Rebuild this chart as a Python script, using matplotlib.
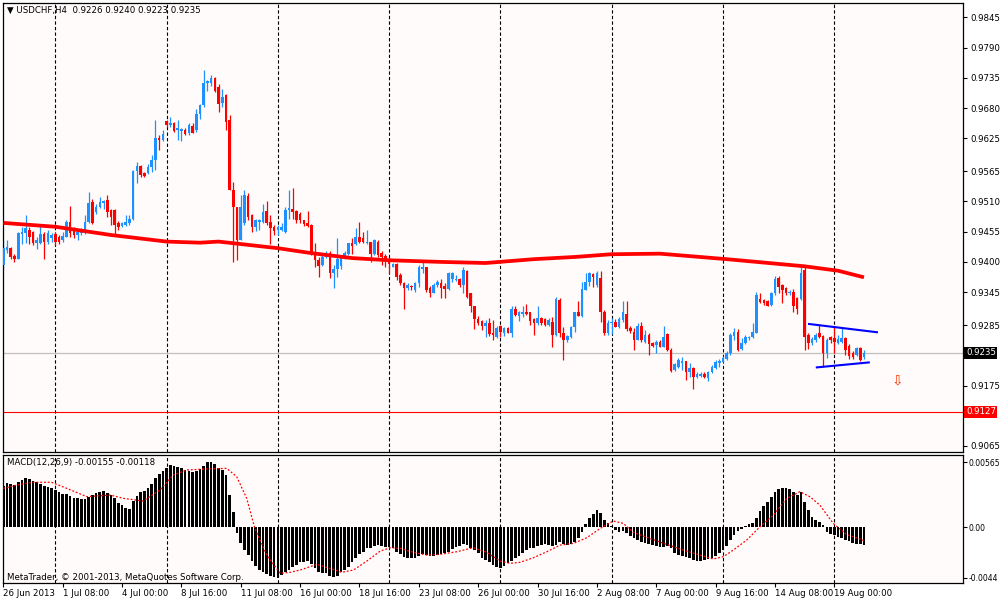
import numpy as np
import matplotlib.pyplot as plt

# USDCHF H4 bars
opens = [
    0.9394, 0.9422, 0.9425, 0.9411, 0.9406, 0.9451, 0.9452, 0.9459, 0.9455, 0.9434,
    0.9434, 0.9451, 0.9437, 0.9443, 0.9451, 0.9446, 0.9440, 0.9446, 0.9473, 0.9461,
    0.9449, 0.9452, 0.9452, 0.9473, 0.9509, 0.9491, 0.9500, 0.9508, 0.9512, 0.9495,
    0.9495, 0.9470, 0.9465, 0.9467, 0.9471, 0.9479, 0.9565, 0.9574, 0.9561, 0.9561,
    0.9573, 0.9586, 0.9626, 0.9622, 0.9656, 0.9649, 0.9653, 0.9640, 0.9638, 0.9640,
    0.9634, 0.9647, 0.9640, 0.9670, 0.9685, 0.9726, 0.9726, 0.9734, 0.9718, 0.9689,
    0.9703, 0.9658, 0.9531, 0.9500, 0.9440, 0.9470, 0.9520, 0.9485, 0.9463, 0.9473,
    0.9473, 0.9493, 0.9473, 0.9463, 0.9458, 0.9459, 0.9455, 0.9495, 0.9497, 0.9493,
    0.9488, 0.9476, 0.9471, 0.9467, 0.9418, 0.9403, 0.9394, 0.9409, 0.9417, 0.9379,
    0.9388, 0.9392, 0.9406, 0.9415, 0.9435, 0.9432, 0.9446, 0.9443, 0.9434, 0.9437,
    0.9415, 0.9437, 0.9417, 0.9411, 0.9406, 0.9391, 0.9396, 0.9376, 0.9361, 0.9352,
    0.9356, 0.9349, 0.9361, 0.9388, 0.9390, 0.9352, 0.9344, 0.9358, 0.9361, 0.9356,
    0.9350, 0.9368, 0.9367, 0.9368, 0.9358, 0.9384, 0.9343, 0.9319, 0.9296, 0.9293,
    0.9283, 0.9289, 0.9271, 0.9264, 0.9283, 0.9271, 0.9279, 0.9271, 0.9315, 0.9302,
    0.9306, 0.9309, 0.9308, 0.9296, 0.9288, 0.9298, 0.9296, 0.9285, 0.9291, 0.9267,
    0.9331, 0.9270, 0.9258, 0.9264, 0.9281, 0.9308, 0.9302, 0.9349, 0.9364, 0.9378,
    0.9358, 0.9370, 0.9309, 0.9270, 0.9288, 0.9291, 0.9281, 0.9294, 0.9305, 0.9279,
    0.9273, 0.9258, 0.9283, 0.9255, 0.9267, 0.9253, 0.9249, 0.9255, 0.9246, 0.9269,
    0.9240, 0.9203, 0.9208, 0.9216, 0.9219, 0.9200, 0.9206, 0.9191, 0.9192, 0.9196,
    0.9188, 0.9199, 0.9206, 0.9216, 0.9218, 0.9223, 0.9234, 0.9265, 0.9273, 0.9241,
    0.9253, 0.9261, 0.9263, 0.9271, 0.9332, 0.9331, 0.9328, 0.9322, 0.9343, 0.9370,
    0.9358, 0.9352, 0.9343, 0.9346, 0.9334, 0.9332, 0.9385, 0.9267, 0.9252, 0.9258,
    0.9271, 0.9265, 0.9234, 0.9264, 0.9261, 0.9253, 0.9255, 0.9261, 0.9247, 0.9234,
    0.9231, 0.9243, 0.9226,
]
highs = [
    0.9440, 0.9440, 0.9428, 0.9415, 0.9455, 0.9464, 0.9485, 0.9464, 0.9457, 0.9446,
    0.9467, 0.9455, 0.9458, 0.9452, 0.9455, 0.9449, 0.9455, 0.9477, 0.9502, 0.9464,
    0.9458, 0.9461, 0.9485, 0.9528, 0.9514, 0.9505, 0.9518, 0.9512, 0.9522, 0.9497,
    0.9497, 0.9475, 0.9473, 0.9485, 0.9485, 0.9567, 0.9582, 0.9576, 0.9564, 0.9579,
    0.9594, 0.9659, 0.9631, 0.9640, 0.9659, 0.9664, 0.9655, 0.9659, 0.9643, 0.9643,
    0.9653, 0.9652, 0.9679, 0.9688, 0.9750, 0.9731, 0.9741, 0.9737, 0.9724, 0.9714,
    0.9706, 0.9667, 0.9546, 0.9500, 0.9522, 0.9531, 0.9526, 0.9488, 0.9479, 0.9479,
    0.9506, 0.9511, 0.9485, 0.9467, 0.9467, 0.9470, 0.9500, 0.9531, 0.9534, 0.9494,
    0.9491, 0.9477, 0.9493, 0.9469, 0.9435, 0.9409, 0.9415, 0.9419, 0.9420, 0.9394,
    0.9443, 0.9411, 0.9419, 0.9435, 0.9443, 0.9461, 0.9473, 0.9455, 0.9458, 0.9437,
    0.9441, 0.9440, 0.9419, 0.9415, 0.9409, 0.9398, 0.9398, 0.9379, 0.9364, 0.9361,
    0.9358, 0.9364, 0.9394, 0.9403, 0.9391, 0.9356, 0.9361, 0.9367, 0.9368, 0.9361,
    0.9382, 0.9382, 0.9376, 0.9370, 0.9391, 0.9385, 0.9344, 0.9320, 0.9302, 0.9294,
    0.9294, 0.9297, 0.9294, 0.9283, 0.9285, 0.9281, 0.9281, 0.9320, 0.9319, 0.9311,
    0.9320, 0.9323, 0.9309, 0.9297, 0.9320, 0.9300, 0.9297, 0.9297, 0.9299, 0.9336,
    0.9334, 0.9281, 0.9267, 0.9283, 0.9309, 0.9328, 0.9364, 0.9379, 0.9382, 0.9380,
    0.9384, 0.9384, 0.9312, 0.9294, 0.9297, 0.9296, 0.9299, 0.9328, 0.9328, 0.9283,
    0.9279, 0.9288, 0.9291, 0.9276, 0.9270, 0.9255, 0.9258, 0.9258, 0.9283, 0.9270,
    0.9243, 0.9216, 0.9225, 0.9226, 0.9220, 0.9216, 0.9208, 0.9199, 0.9199, 0.9199,
    0.9202, 0.9212, 0.9222, 0.9223, 0.9228, 0.9237, 0.9270, 0.9279, 0.9277, 0.9261,
    0.9267, 0.9265, 0.9288, 0.9346, 0.9343, 0.9332, 0.9331, 0.9346, 0.9374, 0.9374,
    0.9360, 0.9355, 0.9349, 0.9350, 0.9337, 0.9390, 0.9391, 0.9270, 0.9264, 0.9271,
    0.9285, 0.9267, 0.9261, 0.9265, 0.9281, 0.9267, 0.9281, 0.9263, 0.9251, 0.9237,
    0.9245, 0.9245, 0.9240,
]
lows = [
    0.9388, 0.9416, 0.9405, 0.9400, 0.9405, 0.9432, 0.9434, 0.9432, 0.9431, 0.9423,
    0.9432, 0.9406, 0.9432, 0.9437, 0.9431, 0.9432, 0.9437, 0.9446, 0.9446, 0.9443,
    0.9440, 0.9449, 0.9451, 0.9470, 0.9469, 0.9488, 0.9499, 0.9497, 0.9482, 0.9467,
    0.9449, 0.9458, 0.9464, 0.9465, 0.9467, 0.9476, 0.9543, 0.9555, 0.9554, 0.9560,
    0.9564, 0.9567, 0.9603, 0.9620, 0.9646, 0.9646, 0.9637, 0.9622, 0.9621, 0.9631,
    0.9631, 0.9634, 0.9637, 0.9661, 0.9682, 0.9712, 0.9721, 0.9709, 0.9673, 0.9682,
    0.9640, 0.9531, 0.9400, 0.9403, 0.9440, 0.9467, 0.9476, 0.9455, 0.9457, 0.9458,
    0.9471, 0.9467, 0.9432, 0.9449, 0.9449, 0.9457, 0.9453, 0.9479, 0.9479, 0.9470,
    0.9471, 0.9465, 0.9464, 0.9412, 0.9390, 0.9373, 0.9392, 0.9408, 0.9370, 0.9352,
    0.9373, 0.9388, 0.9405, 0.9412, 0.9415, 0.9431, 0.9435, 0.9434, 0.9432, 0.9400,
    0.9412, 0.9409, 0.9394, 0.9391, 0.9379, 0.9390, 0.9367, 0.9358, 0.9315, 0.9349,
    0.9349, 0.9346, 0.9355, 0.9379, 0.9346, 0.9337, 0.9343, 0.9355, 0.9335, 0.9335,
    0.9349, 0.9364, 0.9366, 0.9355, 0.9344, 0.9334, 0.9309, 0.9277, 0.9285, 0.9276,
    0.9264, 0.9265, 0.9257, 0.9261, 0.9264, 0.9265, 0.9270, 0.9264, 0.9302, 0.9293,
    0.9299, 0.9303, 0.9285, 0.9267, 0.9285, 0.9285, 0.9283, 0.9283, 0.9246, 0.9265,
    0.9264, 0.9222, 0.9255, 0.9261, 0.9273, 0.9302, 0.9300, 0.9348, 0.9356, 0.9355,
    0.9355, 0.9291, 0.9267, 0.9267, 0.9269, 0.9281, 0.9279, 0.9291, 0.9275, 0.9271,
    0.9240, 0.9257, 0.9255, 0.9252, 0.9231, 0.9246, 0.9235, 0.9245, 0.9245, 0.9237,
    0.9200, 0.9202, 0.9206, 0.9203, 0.9185, 0.9191, 0.9168, 0.9188, 0.9190, 0.9188,
    0.9184, 0.9197, 0.9205, 0.9209, 0.9217, 0.9222, 0.9231, 0.9258, 0.9237, 0.9239,
    0.9251, 0.9258, 0.9261, 0.9270, 0.9325, 0.9322, 0.9319, 0.9320, 0.9340, 0.9343,
    0.9326, 0.9340, 0.9340, 0.9309, 0.9306, 0.9331, 0.9240, 0.9241, 0.9249, 0.9255,
    0.9261, 0.9209, 0.9225, 0.9252, 0.9234, 0.9251, 0.9252, 0.9231, 0.9223, 0.9223,
    0.9229, 0.9220, 0.9223,
]
closes = [
    0.9425, 0.9428, 0.9409, 0.9406, 0.9452, 0.9455, 0.9461, 0.9446, 0.9434, 0.9440,
    0.9451, 0.9437, 0.9452, 0.9449, 0.9437, 0.9437, 0.9447, 0.9473, 0.9452, 0.9449,
    0.9455, 0.9458, 0.9473, 0.9508, 0.9470, 0.9500, 0.9509, 0.9511, 0.9491, 0.9482,
    0.9467, 0.9464, 0.9471, 0.9473, 0.9479, 0.9565, 0.9574, 0.9558, 0.9556, 0.9573,
    0.9586, 0.9626, 0.9622, 0.9632, 0.9649, 0.9652, 0.9638, 0.9643, 0.9642, 0.9632,
    0.9649, 0.9635, 0.9670, 0.9685, 0.9726, 0.9729, 0.9734, 0.9712, 0.9688, 0.9701,
    0.9655, 0.9531, 0.9500, 0.9440, 0.9500, 0.9522, 0.9482, 0.9463, 0.9477, 0.9477,
    0.9491, 0.9470, 0.9461, 0.9457, 0.9464, 0.9464, 0.9495, 0.9499, 0.9491, 0.9477,
    0.9477, 0.9469, 0.9465, 0.9415, 0.9403, 0.9392, 0.9409, 0.9417, 0.9379, 0.9388,
    0.9406, 0.9409, 0.9417, 0.9434, 0.9429, 0.9445, 0.9437, 0.9437, 0.9437, 0.9415,
    0.9440, 0.9412, 0.9409, 0.9406, 0.9396, 0.9397, 0.9373, 0.9361, 0.9352, 0.9358,
    0.9354, 0.9361, 0.9390, 0.9391, 0.9349, 0.9343, 0.9358, 0.9364, 0.9352, 0.9350,
    0.9379, 0.9380, 0.9368, 0.9358, 0.9385, 0.9336, 0.9319, 0.9296, 0.9288, 0.9283,
    0.9288, 0.9269, 0.9267, 0.9279, 0.9273, 0.9279, 0.9271, 0.9314, 0.9303, 0.9309,
    0.9309, 0.9306, 0.9293, 0.9288, 0.9297, 0.9288, 0.9285, 0.9294, 0.9267, 0.9332,
    0.9270, 0.9258, 0.9265, 0.9281, 0.9308, 0.9302, 0.9350, 0.9364, 0.9380, 0.9372,
    0.9379, 0.9308, 0.9270, 0.9289, 0.9291, 0.9282, 0.9296, 0.9309, 0.9277, 0.9275,
    0.9258, 0.9283, 0.9257, 0.9267, 0.9251, 0.9247, 0.9255, 0.9246, 0.9264, 0.9240,
    0.9202, 0.9214, 0.9222, 0.9219, 0.9200, 0.9206, 0.9191, 0.9196, 0.9196, 0.9191,
    0.9200, 0.9209, 0.9217, 0.9220, 0.9225, 0.9234, 0.9267, 0.9273, 0.9240, 0.9253,
    0.9264, 0.9264, 0.9273, 0.9340, 0.9327, 0.9325, 0.9320, 0.9343, 0.9368, 0.9355,
    0.9349, 0.9344, 0.9346, 0.9319, 0.9315, 0.9379, 0.9264, 0.9252, 0.9259, 0.9267,
    0.9264, 0.9234, 0.9258, 0.9257, 0.9255, 0.9259, 0.9261, 0.9240, 0.9228, 0.9226,
    0.9243, 0.9222, 0.9235,
]

# moving average (thick red line), read at a few bars
ma_x = [0, 14, 29, 44, 53, 58, 74, 83, 94, 104, 118, 130, 143, 154, 164, 177, 195, 216, 225, 232]
ma_y = [0.9471, 0.9464, 0.9449, 0.9437, 0.9435, 0.9437, 0.9425, 0.9416, 0.9407, 0.9403,
        0.9400, 0.9398, 0.9405, 0.9409, 0.9414, 0.9415, 0.9405, 0.9392, 0.9384, 0.9372]

# MACD(12,26,9) main line as histogram
macd_main = [
    0.00360, 0.00380, 0.00371, 0.00365, 0.00389, 0.00409, 0.00423, 0.00418, 0.00400, 0.00389,
    0.00371, 0.00360, 0.00351, 0.00336, 0.00322, 0.00302, 0.00284, 0.00284, 0.00273, 0.00255,
    0.00249, 0.00241, 0.00244, 0.00264, 0.00278, 0.00293, 0.00307, 0.00313, 0.00293, 0.00278,
    0.00249, 0.00206, 0.00191, 0.00168, 0.00157, 0.00226, 0.00273, 0.00302, 0.00313, 0.00342,
    0.00371, 0.00429, 0.00458, 0.00487, 0.00516, 0.00539, 0.00534, 0.00525, 0.00510, 0.00496,
    0.00487, 0.00476, 0.00487, 0.00505, 0.00534, 0.00563, 0.00568, 0.00545, 0.00516, 0.00496,
    0.00452, 0.00278, 0.00128, -0.00055, -0.00142, -0.00200, -0.00244, -0.00296, -0.00336, -0.00374,
    -0.00394, -0.00412, -0.00423, -0.00432, -0.00441, -0.00418, -0.00389, -0.00374, -0.00345, -0.00331,
    -0.00307, -0.00302, -0.00296, -0.00325, -0.00360, -0.00394, -0.00403, -0.00403, -0.00423, -0.00432,
    -0.00423, -0.00394, -0.00374, -0.00345, -0.00307, -0.00273, -0.00238, -0.00215, -0.00186, -0.00180,
    -0.00162, -0.00157, -0.00162, -0.00171, -0.00171, -0.00180, -0.00215, -0.00238, -0.00258, -0.00267,
    -0.00273, -0.00273, -0.00249, -0.00238, -0.00244, -0.00249, -0.00249, -0.00244, -0.00238, -0.00229,
    -0.00215, -0.00191, -0.00171, -0.00162, -0.00151, -0.00157, -0.00180, -0.00200, -0.00229, -0.00267,
    -0.00287, -0.00307, -0.00331, -0.00345, -0.00354, -0.00336, -0.00316, -0.00296, -0.00273, -0.00249,
    -0.00229, -0.00200, -0.00186, -0.00180, -0.00162, -0.00157, -0.00151, -0.00157, -0.00162, -0.00157,
    -0.00133, -0.00151, -0.00157, -0.00151, -0.00133, -0.00099, -0.00041, 0.00023, 0.00081, 0.00110,
    0.00148, 0.00119, 0.00061, 0.00032, 0.00006, -0.00026, -0.00041, -0.00035, -0.00055, -0.00075,
    -0.00099, -0.00113, -0.00133, -0.00142, -0.00151, -0.00157, -0.00162, -0.00171, -0.00171, -0.00165,
    -0.00186, -0.00229, -0.00244, -0.00249, -0.00258, -0.00273, -0.00287, -0.00296, -0.00296, -0.00287,
    -0.00278, -0.00267, -0.00249, -0.00229, -0.00200, -0.00162, -0.00113, -0.00070, -0.00035, -0.00017,
    0.00012, 0.00023, 0.00032, 0.00081, 0.00139, 0.00186, 0.00220, 0.00264, 0.00307, 0.00331,
    0.00336, 0.00336, 0.00331, 0.00307, 0.00278, 0.00307, 0.00220, 0.00148, 0.00090, 0.00061,
    0.00046, 0.00017, -0.00046, -0.00064, -0.00070, -0.00084, -0.00099, -0.00113, -0.00122, -0.00140,
    -0.00145, -0.00148, -0.00155,
]

# signal line (red dotted)
signal_x = [0, 4.5, 8.1, 13, 17.1, 22.5, 28.8, 32.4, 37.7, 42.2, 45.8, 49.4, 54.8, 60.2, 62.9,
            65.6, 67.8, 71, 74.6, 77.3, 80, 84.5, 88.1, 91.2, 94.4, 98, 101.6, 104.3, 107,
            110.5, 114.1, 117.7, 122.2, 126.7, 130.3, 133.9, 136.6, 139.3, 142.9, 146.5,
            150.1, 153.7, 157.3, 160.9, 164.4, 167.1, 169.8, 174.3, 178.8, 183.3, 187.8,
            191.4, 194.1, 196.8, 200.4, 204, 207.6, 211.2, 214.7, 217.4, 220.1, 223.7, 227.3, 232]
signal_y = [0.00336, 0.00371, 0.00389, 0.00389, 0.00336, 0.00264, 0.00278, 0.00249, 0.00226,
            0.00322, 0.00452, 0.00496, 0.00505, 0.00510, 0.00438, 0.00249, -0.00012, -0.00244,
            -0.00403, -0.00394, -0.00374, -0.00325, -0.00360, -0.00394, -0.00374, -0.00296,
            -0.00209, -0.00180, -0.00186, -0.00220, -0.00244, -0.00238, -0.00215, -0.00180,
            -0.00220, -0.00296, -0.00316, -0.00307, -0.00267, -0.00215, -0.00157, -0.00142,
            -0.00093, -0.00012, 0.00052, 0.00032, -0.00046, -0.00099, -0.00151, -0.00200,
            -0.00244, -0.00278, -0.00258, -0.00200, -0.00113, 0.00003, 0.00104, 0.00249,
            0.00307, 0.00264, 0.00191, 0.00032, -0.00064, -0.00118]

# triangle drawn on the chart
upper_x = [217.2, 235.5]
upper_y = [0.9287, 0.9272]
lower_x = [219.3, 233.3]
lower_y = [0.9208, 0.9217]

current_price = 0.9235
level_price = 0.9127
arrow_x = 241
arrow_y = 0.9185

price_ticks = [0.9845, 0.9790, 0.9735, 0.9680, 0.9625, 0.9565, 0.9510, 0.9455,
               0.9400, 0.9345, 0.9285, 0.9175, 0.9065]
macd_ticks = [0.00565, 0.0, -0.0044]
macd_tick_labels = ['0.00565', '0.00', '-0.0044']

date_ticks = [0, 16, 32, 48, 64, 80, 96, 112, 128, 144, 160, 176, 192, 208, 224]
date_labels = ['26 Jun 2013', '1 Jul 08:00', '4 Jul 00:00', '8 Jul 16:00', '11 Jul 08:00',
               '16 Jul 00:00', '18 Jul 16:00', '23 Jul 08:00', '26 Jul 00:00', '30 Jul 16:00',
               '2 Aug 08:00', '7 Aug 00:00', '9 Aug 16:00', '14 Aug 08:00', '19 Aug 00:00']
grid_bars = [14, 44, 74, 104, 134, 164, 194, 224]

BG = '#FFFBFA'
BULL = '#1E90FF'
BEAR = '#FF0000'
FS = 6.2

plt.rcParams['font.family'] = ['DejaVu Sans']

fig = plt.figure(figsize=(10, 6), dpi=100, facecolor='white')
ax = fig.add_axes([0.003, 0.2467, 0.960, 0.748], facecolor=BG)
ax2 = fig.add_axes([0.003, 0.0283, 0.960, 0.2133], facecolor=BG, sharex=ax)

o = np.array(opens)
h = np.array(highs)
l = np.array(lows)
c = np.array(closes)
x = np.arange(len(c))
colors = np.where(c >= o, BULL, BEAR)

ax.vlines(x, l, h, colors=colors, linewidth=0.9, zorder=2)
body = np.maximum(np.abs(c - o), 0.00006)
ax.bar(x, body, 0.7, bottom=np.minimum(o, c), color=colors, linewidth=0, zorder=3)

ax.plot(ma_x, ma_y, color='#FF0000', linewidth=2.7, zorder=4, solid_capstyle='butt')
ax.axhline(current_price, color='#C0C0C0', linewidth=0.9, zorder=1)
ax.axhline(level_price, color='#FF0000', linewidth=0.8, zorder=1)
ax.plot(upper_x, upper_y, color='#0000FF', linewidth=1.5, zorder=5)
ax.plot(lower_x, lower_y, color='#0000FF', linewidth=1.5, zorder=5)
ax.text(arrow_x, arrow_y, '\u21e9', color='#FF3300', fontsize=10, ha='center', va='center')

for axis in (ax, ax2):
    for b in grid_bars:
        axis.axvline(b, color='black', linewidth=0.8, linestyle=(0, (3, 2)), zorder=0)
    for s in axis.spines.values():
        s.set_color('black')
        s.set_linewidth(0.9)
    axis.yaxis.tick_right()
    axis.tick_params(axis='y', direction='out', length=3, width=0.8, labelsize=FS, pad=2)

ax.set_xlim(-0.1, 258.7)
ax.set_ylim(0.9054, 0.9871)
ax.set_yticks(price_ticks)
ax.set_yticklabels(['%.4f' % p for p in price_ticks])
ax.tick_params(axis='x', bottom=False, labelbottom=False)

ax.text(1.003, current_price, '%.4f' % current_price, transform=ax.get_yaxis_transform(),
        color='white', fontsize=FS, va='center', ha='left',
        bbox=dict(boxstyle='square,pad=0.18', fc='black', ec='none'))
ax.text(1.003, level_price, '%.4f' % level_price, transform=ax.get_yaxis_transform(),
        color='white', fontsize=FS, va='center', ha='left',
        bbox=dict(boxstyle='square,pad=0.18', fc='#FF0000', ec='none'))

ax2.bar(x, macd_main, 0.72, color='black', linewidth=0, zorder=2)
ax2.plot(signal_x, signal_y, color='#FF0000', linewidth=0.9, linestyle=(0, (1.5, 1.5)), zorder=3)
ax2.set_ylim(-0.00487, 0.00626)
ax2.set_yticks(macd_ticks)
ax2.set_yticklabels(macd_tick_labels)
ax2.tick_params(axis='y', labelsize=5.5, pad=1)
ax2.set_xticks(date_ticks)
ax2.set_xticklabels(date_labels, ha='left')
ax2.tick_params(axis='x', direction='out', length=3, width=0.8, labelsize=FS, pad=1.5)

fig.text(0.007, 0.983, '\u25bc USDCHF,H4  0.9226 0.9240 0.9223 0.9235', fontsize=FS, va='center')
fig.text(0.007, 0.230, 'MACD(12,26,9) -0.00155 -0.00118', fontsize=FS, va='center')
fig.text(0.007, 0.038, 'MetaTrader, \u00a9 2001-2013, MetaQuotes Software Corp.', fontsize=FS, va='center')

plt.savefig('out.png', dpi=100, facecolor='white')
